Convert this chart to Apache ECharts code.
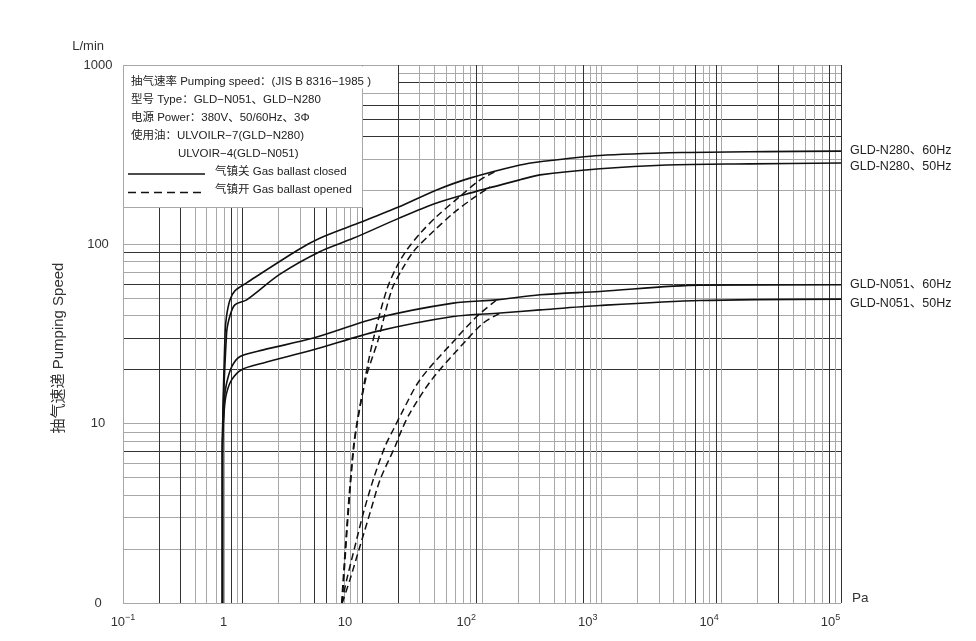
<!DOCTYPE html>
<html><head><meta charset="utf-8">
<script src="https://cdn.jsdelivr.net/npm/echarts@6/dist/echarts.min.js"></script>
<style>html,body{margin:0;padding:0;background:#fff}#c{width:976px;height:641px}</style>
</head><body><div id="c"></div>
<script>
// ---------- data: pressure (Pa) vs pumping speed (L/min) ----------
const n280_60_closed = [[0.98,1],[0.98,7.2],[1.03,32],[1.06,40],[1.13,49],[1.24,55],[1.55,61],[4.1,93],[6.2,108],[11.7,128],[28,162],[57,201],[107,234],[277,277],[405,289],[1260,313],[6100,325],[30000,329],[122000,331]];
const n280_50_closed = [[0.98,1],[0.98,7],[1.06,32],[1.13,40],[1.24,46],[1.55,49],[2.9,68],[6.2,91],[11.7,108],[28,140],[57,170],[107,193],[277,229],[405,244],[1260,264],[4470,277],[21700,281],[122000,284]];
const n051_60_closed = [[0.98,1],[0.98,7],[1.015,13.6],[1.06,16.8],[1.17,20.8],[1.37,23.7],[2.13,25.8],[5.5,30],[18.3,38.8],[78,47],[178,49],[405,52.3],[1260,54.6],[8400,59.2],[122000,59.5]];
const n051_50_closed = [[0.98,1],[0.98,7],[1.015,12],[1.06,14.8],[1.17,17.6],[1.41,20],[2.13,21.8],[5.5,25.8],[18.3,32.7],[78,39.6],[190,41.4],[405,43.1],[1260,45.6],[8400,48.6],[122000,49.5]];
const n280_60_opened = [[9.4,1],[11.7,7.2],[14.6,17.6],[17.1,29.4],[22.1,55.8],[26.7,75],[32.3,93],[41.6,115],[57,143],[88.7,185],[130,229],[175,255]];
const n280_50_opened = [[9.5,1],[11.8,7.2],[14.8,17.6],[18.8,29.4],[24.3,55.8],[29.4,72],[36.6,91],[50,113],[78,149],[114,181],[157,209]];
const n051_60_opened = [[9.4,1],[10.35,1.35],[12.1,2.07],[14.2,3.18],[17.1,4.87],[21.4,7.46],[25,9.25],[29.4,11.5],[41.6,17.6],[80.7,29.4],[122,39.6],[178,49]];
const n051_50_opened = [[9.5,1],[11,1.35],[13.3,2.07],[16.1,3.18],[19.5,4.87],[25.9,7.46],[29.4,9.25],[34.4,11.5],[51.9,17.6],[101,29.4],[138,36.4],[190,41.4]];

const seriesNames = ['GLD-N280、60Hz','GLD-N280、50Hz','GLD-N051、60Hz','GLD-N051、50Hz'];

// ---------- tick labels ----------
const yTickValues = [1, 10, 100, 1000];
const yTickLabels = ['0', '10', '100', '1000'];
const xTickValues = [0.1, 1, 10, 100, 1000, 10000, 100000];
const xTickLabels = ['{b|10}{s|−1}', '{b|1}', '{b|10}', '{b|10}{s|2}', '{b|10}{s|3}', '{b|10}{s|4}', '{b|10}{s|5}'];

// ---------- background log grid (printed chart paper) ----------
const gridDecadesX = [-1, 0, 1, 2, 3, 4];
const gridDecadesY = [0, 1, 2];
const gridSteps = [1, 2, 3, 4, 5, 6, 7, 8, 9];
const darkLinesX = [0.2, 0.3, 0.8, 1, 4, 5, 10, 20, 90, 700, 6000, 9000, 30000, 80000, 100000];
const darkLinesY = [7, 20, 30, 60, 90, 400, 500, 600, 800];

const FONT = "'Liberation Sans', Arial, 'Noto Sans CJK SC', sans-serif";
const DARK = '#333', GRAY = '#a8a8a8';

function buildGrid(decades, top, darkList) {
  const vals = [], cols = [];
  decades.forEach(d => gridSteps.forEach(m => vals.push(d + Math.log10(m))));
  vals.push(top);
  vals.forEach(v => {
    const dark = darkList.some(k => Math.abs(Math.log10(k) - v) < 1e-6);
    cols.push(dark ? DARK : GRAY);
  });
  return {vals, cols};
}
const gx = buildGrid(gridDecadesX, 5, darkLinesX);
const gy = buildGrid(gridDecadesY, 3, darkLinesY);

function isTick(v, arr) {
  for (let i = 0; i < arr.length; i++) {
    if (Math.abs(Math.log10(v) - Math.log10(arr[i])) < 1e-6) return i;
  }
  return -1;
}

const richX = {
  b: {fontSize: 13, color: '#333', fontFamily: FONT, lineHeight: 18},
  s: {fontSize: 9, color: '#333', fontFamily: FONT, verticalAlign: 'top', lineHeight: 10}
};

function closed(idx, data, offY) {
  return {
    type: 'line', name: seriesNames[idx], data, xAxisIndex: 1, yAxisIndex: 1,
    symbol: 'none', smooth: 0.3, z: 5,
    lineStyle: {color: '#111', width: 1.6},
    endLabel: {show: true, formatter: seriesNames[idx], distance: 9, offset: [0, offY],
      color: '#222', fontSize: 12.5, fontFamily: FONT}
  };
}
function opened(idx, data) {
  return {
    type: 'line', name: seriesNames[idx] + ' opened', data, xAxisIndex: 1, yAxisIndex: 1,
    symbol: 'none', smooth: 0.3, z: 5,
    lineStyle: {color: '#111', width: 1.5, type: [7, 4]}
  };
}

const chart = echarts.init(document.getElementById('c'), null, {renderer: 'canvas'});
const gridBox = {left: 123, top: 65, width: 718, height: 538};
const legendTexts = [
  {t: '抽气速率 Pumping speed：(JIS B 8316−1985 )', x: 131, y: 82},
  {t: '型号 Type：GLD−N051、GLD−N280', x: 131, y: 100},
  {t: '电源 Power：380V、50/60Hz、3Φ', x: 131, y: 118},
  {t: '使用油：ULVOILR−7(GLD−N280)', x: 131, y: 136},
  {t: 'ULVOIR−4(GLD−N051)', x: 178, y: 154},
  {t: '气镇关 Gas ballast closed', x: 215, y: 172},
  {t: '气镇开 Gas ballast opened', x: 215, y: 190}
];

chart.setOption({
  animation: false,
  backgroundColor: '#fff',
  textStyle: {fontFamily: FONT},
  grid: [
    Object.assign({}, gridBox),
    Object.assign({}, gridBox)
  ],
  xAxis: [
    {
      type: 'value', gridIndex: 0, min: -1, max: 5,
      axisLine: {show: false, onZero: false},
      axisTick: {show: false, customValues: gx.vals},
      splitLine: {show: true, lineStyle: {color: gx.cols, width: 1}},
      axisLabel: {show: true, customValues: [-1], margin: 10,
        formatter: v => Math.abs(v + 1) < 1e-9 ? xTickLabels[0] : '', rich: richX}
    },
    {
      type: 'log', gridIndex: 1, min: 0.1486, max: 122000,
      axisLine: {show: false}, axisTick: {show: false}, splitLine: {show: false},
      axisLabel: {margin: 10, rich: richX, showMinLabel: true, showMaxLabel: true,
        formatter: v => { const i = isTick(v, xTickValues); return i > 0 ? xTickLabels[i] : ''; }},
      name: 'Pa', nameLocation: 'end', nameGap: 11,
      nameTextStyle: {fontSize: 13.5, color: '#333', fontFamily: FONT, verticalAlign: 'bottom', lineHeight: 10}
    }
  ],
  yAxis: [
    {
      type: 'value', gridIndex: 0, min: 0, max: 3,
      axisLine: {show: false, onZero: false},
      axisTick: {show: false, customValues: gy.vals},
      splitLine: {show: true, lineStyle: {color: gy.cols, width: 1}},
      axisLabel: {show: false},
      name: 'L/min', nameLocation: 'end', nameGap: 12,
      nameTextStyle: {fontSize: 13, color: '#333', fontFamily: FONT, align: 'right', padding: [0, 19, 0, 0]}
    },
    {
      type: 'log', gridIndex: 1, min: 1, max: 1000,
      axisLine: {show: false}, axisTick: {show: false}, splitLine: {show: false},
      axisLabel: {margin: 25, align: 'center', fontSize: 13, color: '#333', fontFamily: FONT,
        formatter: v => { const i = isTick(v, yTickValues); return i >= 0 ? yTickLabels[i] : ''; }},
      name: '抽气速递 Pumping Speed', nameLocation: 'middle', nameRotate: 90, nameGap: 57,
      nameTextStyle: {fontSize: 15, color: '#333', fontFamily: FONT, padding: [0, 28, 0, 0]}
    }
  ],
  series: [
    closed(0, n280_60_closed, -1),
    closed(1, n280_50_closed, 4),
    closed(2, n051_60_closed, 0),
    closed(3, n051_50_closed, 4),
    opened(0, n280_60_opened),
    opened(1, n280_50_opened),
    opened(2, n051_60_opened),
    opened(3, n051_50_opened)
  ],
  graphic: [
    {type: 'rect', z: 100, shape: {x: 123.5, y: 65.5, width: 239, height: 142},
      style: {fill: '#fff', stroke: '#a8a8a8', lineWidth: 1}},
    {type: 'rect', z: 101, shape: {x: 124, y: 66.5, width: 274, height: 22},
      style: {fill: '#fff'}},
    {type: 'line', z: 102, shape: {x1: 128, y1: 174, x2: 205, y2: 174},
      style: {stroke: '#111', lineWidth: 1.5}},
    {type: 'line', z: 102, shape: {x1: 128, y1: 192.5, x2: 205, y2: 192.5},
      style: {stroke: '#111', lineWidth: 1.5, lineDash: [8, 5]}}
  ].concat(legendTexts.map(o => ({
    type: 'text', z: 102, x: o.x, y: o.y,
    style: {text: o.t, fill: '#222', fontSize: 11.5, fontFamily: FONT, verticalAlign: 'middle', align: 'left'}
  })))
});
</script></body></html>
